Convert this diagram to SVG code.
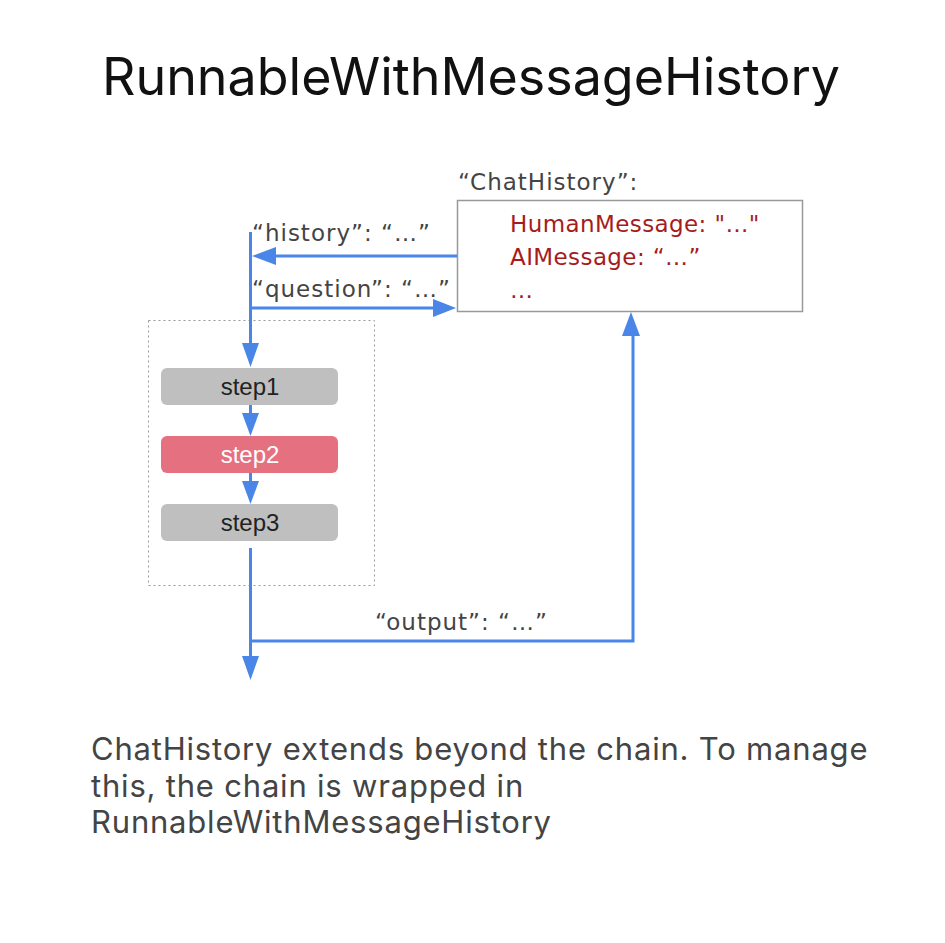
<svg xmlns="http://www.w3.org/2000/svg" width="945" height="943" viewBox="0 0 945 943">
<style>
.lbl{font-family:"DejaVu Sans",Verdana,sans-serif;font-size:23px;fill:#444;letter-spacing:1px}
.msg{font-family:"DejaVu Sans",Verdana,sans-serif;font-size:23px;fill:#a61c1c;letter-spacing:0.4px}
.step{font-family:"Liberation Sans",Arial,sans-serif;font-size:24px;text-anchor:middle}
.conn{stroke:#4a86e8;stroke-width:3;fill:none}
.head{fill:#4a86e8}
</style>
<rect width="945" height="943" fill="#ffffff"/>
<text x="471" y="95" text-anchor="middle" font-family="Inter,'Noto Sans',sans-serif" font-size="52" fill="#111">RunnableWithMessageHistory</text>

<g id="chain-box">
<rect x="148.5" y="320.5" width="226" height="265" fill="none" stroke="#999" stroke-width="1" stroke-dasharray="2,3"/>
</g>

<g id="chathistory">
<text x="458" y="190" class="lbl">“ChatHistory”:</text>
<rect x="457.5" y="200.5" width="345" height="111" fill="#fff" stroke="#999" stroke-width="1.5"/>
<text x="510" y="232" class="msg">HumanMessage: "…"</text>
<text x="510" y="265" class="msg">AIMessage: “…”</text>
<text x="510" y="298" class="msg">…</text>
</g>

<g id="step1">
<rect x="161" y="368" width="177" height="37" rx="6" fill="#bfbfbf"/>
<text x="250" y="395" class="step" fill="#222">step1</text>
</g>
<g id="step2">
<rect x="161" y="436" width="177" height="37" rx="6" fill="#e57080"/>
<text x="250" y="463" class="step" fill="#fff">step2</text>
</g>
<g id="step3">
<rect x="161" y="504" width="177" height="37" rx="6" fill="#bfbfbf"/>
<text x="250" y="531" class="step" fill="#222">step3</text>
</g>

<g id="connectors">
<line x1="250.5" y1="232" x2="250.5" y2="345" class="conn"/>
<polygon points="242,343 259,343 250.5,367" class="head"/>
<line x1="457" y1="256" x2="272" y2="256" class="conn"/>
<polygon points="276,247 276,265 252,256" class="head"/>
<line x1="250.5" y1="308" x2="436" y2="308" class="conn"/>
<polygon points="433,299 433,317 456,308" class="head"/>
<line x1="250.5" y1="405" x2="250.5" y2="418" class="conn"/>
<polygon points="242,413 259,413 250.5,436" class="head"/>
<line x1="250.5" y1="473" x2="250.5" y2="486" class="conn"/>
<polygon points="242,481 259,481 250.5,504" class="head"/>
<line x1="250.5" y1="548" x2="250.5" y2="660" class="conn"/>
<polygon points="242,656 259,656 250.5,680" class="head"/>
<polyline points="250.5,641 633,641 633,332" class="conn"/>
<polygon points="622,336 640,336 631,312" class="head"/>
</g>

<text x="252" y="241" class="lbl">“history”: “…”</text>
<text x="252" y="297" class="lbl">“question”: “…”</text>
<text x="375" y="630" class="lbl">“output”: “…”</text>

<g font-family="Inter,'Noto Sans',sans-serif" font-size="31" fill="#444" letter-spacing="0.8">
<text x="91" y="760">ChatHistory extends beyond the chain. To manage</text>
<text x="91" y="797">this, the chain is wrapped in</text>
<text x="91" y="833">RunnableWithMessageHistory</text>
</g>
</svg>
